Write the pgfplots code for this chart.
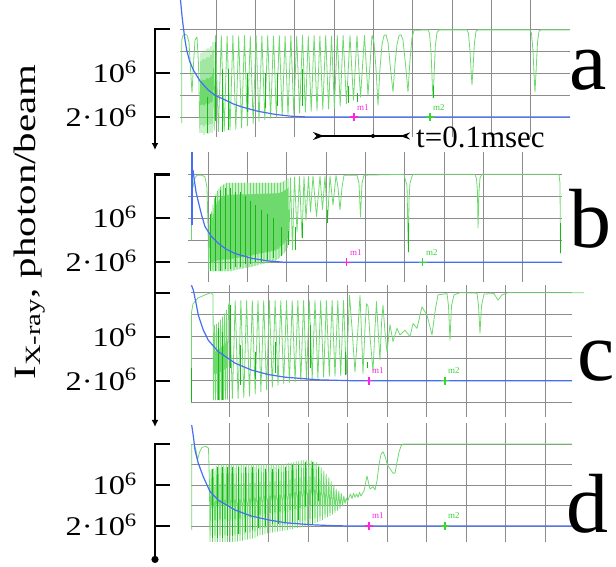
\documentclass[border=0pt]{standalone}
\usepackage{fontspec}
\setmainfont{Liberation Serif}
\newfontfamily\tickfont{Liberation Serif}[FakeStretch=1.2]
\newfontfamily\labfont{Liberation Serif}[FakeStretch=1.32]
\usepackage{pgfplots}
\pgfplotsset{compat=1.18}
\usetikzlibrary{arrows.meta}
\definecolor{trace}{RGB}{110,218,110}
\definecolor{tracedark}{RGB}{20,185,20}
\definecolor{beam}{RGB}{70,110,245}
\definecolor{gridc}{RGB}{140,140,140}
\definecolor{mone}{RGB}{250,40,220}
\definecolor{mtwo}{RGB}{60,210,60}
\tikzset{bracket/.style={line width=2.4pt, black}}
\pgfplotsset{
  panel/.style={
    scale only axis, y dir=reverse, clip=false,
    axis line style={draw=none}, tick style={draw=none},
    major tick length=0pt,
    xticklabels={,,,,,,,,,},
    grid=major, major grid style={gridc, line width=0.9pt},
    yticklabel style={font=\tickfont\fontsize{27}{27}\selectfont, anchor=base east, inner sep=0pt, yshift=-9.3pt},
  },
  gtrace/.style={trace, line width=0.8pt, line join=round},
  dtrace/.style={tracedark, line width=0.9pt, unbounded coords=jump},
  btrace/.style={beam, line width=1.2pt, line join=round},
}
\begin{document}
\begin{tikzpicture}
\path[use as bounding box] (0pt,0pt) rectangle (616pt,-567pt);

% ---------------- panel a ----------------
\begin{axis}[panel, at={(180pt,0pt)}, anchor=north west, width=390pt, height=137pt,
  xmin=180, xmax=570, ymin=-0.659, ymax=2.4545,
  xtick={216.3,255.6,294.9,334.2,373.5,412.8,452.1,491.4,530.7},
  ytick={0,0.5,1,1.5,2}, yticklabels={,,10\textsuperscript{6},,2·10\textsuperscript{6}},
  yticklabel style={xshift=-43pt}]
\addplot[gtrace] coordinates {
(181.7,2.14)(181.7,0.25)(183,0.15)(185,0.12)(187,0.14)(189,0.3)(190.5,0.9)(192,1.45)(193.5,0.8)(195,0.25)(197,0.18)(198.5,0.8)(200,2.36)
(201,0.55)(202,2.36)(203,0.5)(204,2.4)(205,0.5)(206,2.36)(207,0.45)(208,2.38)(209,0.45)(210,2.35)(211,0.4)(212,2.36)(213,0.3)(214.2,2.3)
(215.5,0.15)(218.4,2.33)(221.3,0.15)(224.2,2.32)(227.1,0.16)(230,2.3)(232.9,0.15)(235.8,2.28)(238.7,0.16)(241.6,2.25)(244.5,0.15)(247.4,2.2)(250.3,0.16)(253.2,2.15)(256.1,0.15)(259,2.1)(261.9,0.16)(264.8,2.06)(267.7,0.15)(270.6,2.03)(273.5,0.16)(276.4,2.0)(279.3,0.15)(282.2,1.97)(285.1,0.16)(288,1.95)(290.9,0.15)(293.8,1.93)(296.7,0.16)(299.6,1.91)(302.5,0.15)(305.4,1.89)(308.3,0.16)(311.2,1.87)(314.1,0.15)(317,1.85)(319.9,0.16)(322.8,1.83)(325.7,0.15)(328.6,1.82)(331.5,0.16)(334.4,1.8)(337.3,0.15)(340.2,1.75)(343.1,0.15)(346.5,1.7)(350,0.15)(353.5,1.62)(357,0.15)(360.5,1.55)(364.5,0.15)(368,1.5)(372,0.14)
(374,0.3)(376,0.9)(378,1.73)(380,0.9)(382,0.35)(384,0.15)(386,0.13)(388,0.3)(390.5,0.9)(393,1.43)(395,0.8)(397,0.35)(399,0.15)(401,0.13)(403,0.25)(405.5,0.8)(408,1.43)(410,0.7)(412,0.2)(414,0.03)
(428,0.02)(429.5,0.1)(431,0.5)(432.2,1.2)(433,1.57)(434,1.1)(435.3,0.4)(437,0.08)(439,0.02)
(467,0.02)(468.5,0.1)(470,0.5)(471.2,1.0)(472,1.27)(473,0.9)(474.5,0.3)(476,0.05)(478,0.02)
(530,0.02)(531.5,0.1)(533,0.5)(534.2,1.1)(535,1.43)(536,1.0)(537.5,0.3)(539,0.05)(541,0.02)(570,0.02)
};
\addplot[dtrace] coordinates {
(207,1.55)(207,2.36)(207,nan)(215.5,0.3)(215.5,2.1)(215.5,nan)(222,0.92)(222,2.33)(222,nan)(228,0.92)(228,2.3)(228,nan)
(247,0.99)(247,1.88)(247,nan)(265,0.99)(265,1.8)(265,nan)(277,0.99)(277,1.74)(277,nan)(302,0.92)(302,1.74)(302,nan)
(348,1.3)(348,1.68)(348,nan)(357,1.45)(357,1.65)(357,nan)(433,1.3)(433,1.57)
};
\addplot[btrace] coordinates {
(180.5,-0.66)(182,-0.3)(183.3,-0.05)(185,0.25)(186.7,0.48)(189.5,0.72)(193.3,0.93)(200,1.18)(208.3,1.39)(216,1.52)(225,1.61)(233,1.7)(241.7,1.77)(258,1.87)(275,1.94)(290,1.98)(308,2.0)(570,2.0)
};
\addplot[only marks, mark=+, mark size=4pt, mone, line width=1.2pt] coordinates {(354,2.0)};
\addplot[only marks, mark=+, mark size=4pt, mtwo, line width=1.2pt] coordinates {(430,2.0)};
\node[mone, anchor=south west, inner sep=0pt, font=\fontsize{9}{9}\selectfont] at (axis cs:357,1.85) {m1};
\node[mtwo, anchor=south west, inner sep=0pt, font=\fontsize{9}{9}\selectfont] at (axis cs:433,1.85) {m2};
\draw[bracket, -{Latex[length=7pt,width=7pt]}] (axis cs:170,0) -- (axis cs:155,0) -- (axis cs:155,2.75);
\draw[bracket] (axis cs:155,1) -- (axis cs:170,1);
\draw[bracket] (axis cs:155,2) -- (axis cs:170,2);
\end{axis}

% ---------------- panel b ----------------
\begin{axis}[panel, at={(188pt,-152pt)}, anchor=north west, width=374pt, height=130pt,
  xmin=188, xmax=562, ymin=-0.507, ymax=2.448,
  xtick={208.3,247.6,286.9,326.2,365.5,404.8,444.1,483.4,522.7},
  ytick={0,0.5,1,1.5,2}, yticklabels={,,10\textsuperscript{6},,2·10\textsuperscript{6}},
  yticklabel style={xshift=-51pt}]
\addplot[gtrace] coordinates {
(191.5,1.5)(191.5,0.05)(193,0.3)(194.5,0.1)(197,0.02)(202,0.02)(205,0.06)(207,0.3)(208,1.2)(208.8,2.2)
(210,1.05)(210.75,2.2)(211.5,0.85)(212.25,2.2)(213,0.7)(213.75,2.2)(214.5,0.55)(215.25,2.2)(216,0.45)(216.75,2.2)(217.5,0.38)(218.25,2.2)(219,0.33)(219.75,2.2)(220.5,0.29)(221.25,2.2)(222,0.26)(222.75,2.2)(223.5,0.24)(224.25,2.2)(225,0.22)(225.75,2.2)(226.5,0.2)(227.25,2.2)(228,0.2)(228.75,2.2)(229.5,0.2)(230.25,2.2)(231,0.2)(231.75,2.19)(232.5,0.2)(233.25,2.18)(234,0.2)(234.75,2.17)(235.5,0.2)(236.25,2.16)(237,0.2)(237.75,2.16)(238.5,0.2)(239.25,2.15)(240,0.2)(240.75,2.14)(241.5,0.2)(242.25,2.14)(243,0.2)(243.75,2.13)(244.5,0.2)(245.25,2.12)(246,0.2)(246.75,2.12)(247.5,0.2)(248.25,2.11)(249,0.2)(249.75,2.1)(250.5,0.2)(251.25,2.1)(252,0.2)(252.75,2.09)(253.5,0.2)(254.25,2.08)(255,0.2)(255.75,2.07)(256.5,0.2)(257.25,2.06)(258,0.2)(258.75,2.05)(259.5,0.2)(260.25,2.04)(261,0.2)(261.75,2.04)(262.5,0.2)(263.25,2.03)(264,0.2)(264.75,2.02)(265.5,0.2)(266.25,2.01)(267,0.2)(267.75,2.0)(268.5,0.2)(269.25,2.0)(270,0.2)(270.75,1.99)(271.5,0.2)(272.25,1.98)(273,0.2)(273.75,1.97)(274.5,0.2)(275.25,1.96)(276,0.2)(276.75,1.94)(277.5,0.2)(278.25,1.92)(279,0.2)(279.75,1.89)(280.5,0.19)(281.25,1.85)(282,0.18)(282.75,1.82)(283.5,0.17)(284.25,1.78)(285,0.14)(285.75,1.74)(286.5,0.13)(287.25,1.67)(288,0.1)(288.75,1.6)
(290.5,0.08)(292.5,1.72)(294.5,0.06)(297,1.3)(299.5,0.05)(302,1.45)(304,0.05)(306,1.04)(308.5,0.05)(310.5,0.85)(313,0.04)(316.5,0.96)(320,0.04)(322.5,0.8)(325,0.04)(327.5,1.08)(330,0.04)(333,0.7)(336,0.03)(338,0.3)(340,0.81)(342,0.3)(344,0.02)
(357,0.02)(359,0.2)(360.5,0.97)(362,0.2)(364,0.02)
(404,0.0)(405,0.1)(407,0.25)(408.3,1.77)(409,0.6)(410,0.2)(412,0.05)(413,0.0)
(475,0.0)(476.5,0.1)(477.5,0.4)(478,1.22)(479,0.4)(480,0.08)(482,0.0)
(559,0.0)(560,0.2)(560.5,1.8)
};
\addplot[dtrace] coordinates {
(210,0.9)(210,2.2)(210,nan)(215,0.5)(215,2.2)(215,nan)(220,0.35)(220,2.2)(220,nan)(225,0.3)(225,2.15)(225,nan)(230,0.3)(230,2.15)(230,nan)
(235,0.4)(235,2.1)(235,nan)(240,0.4)(240,2.1)(240,nan)(245,0.5)(245,2.05)(245,nan)(250,0.6)(250,2.05)(250,nan)(255,0.7)(255,2.0)(255,nan)
(261,0.8)(261,2.0)(261,nan)(267,0.9)(267,1.95)(267,nan)(273,1.0)(273,1.9)(273,nan)(281,1.2)(281,1.85)(281,nan)(288,1.3)(288,1.6)(288,nan)
(295,1.2)(295,1.72)(295,nan)(302,1.1)(302,1.45)(302,nan)(327,0.8)(327,1.1)(327,nan)(408.3,1.1)(408.3,1.77)(408.3,nan)(560.5,1.1)(560.5,1.8)
};
\addplot[btrace] coordinates {(192,-0.5)(192,1.15)};
\addplot[btrace] coordinates {
(193,-0.1)(194.3,0.13)(196,0.4)(198.3,0.62)(201.5,0.92)(205,1.19)(211,1.4)(218.3,1.57)(226,1.7)(235,1.8)(251.7,1.91)(268.3,1.97)(285,2.0)(562,2.0)
};
\addplot[only marks, mark=+, mark size=4pt, mone, line width=1.2pt] coordinates {(346.7,2.0)};
\addplot[only marks, mark=+, mark size=4pt, mtwo, line width=1.2pt] coordinates {(422.7,2.0)};
\node[mone, anchor=south west, inner sep=0pt, font=\fontsize{9}{9}\selectfont] at (axis cs:350,1.85) {m1};
\node[mtwo, anchor=south west, inner sep=0pt, font=\fontsize{9}{9}\selectfont] at (axis cs:426,1.85) {m2};
\draw[bracket] (axis cs:170,0) -- (axis cs:155,0) -- (axis cs:155,2.75);
\draw[bracket] (axis cs:155,1) -- (axis cs:170,1);
\draw[bracket] (axis cs:155,2) -- (axis cs:170,2);
\end{axis}

% ---------------- panel c ----------------
\begin{axis}[panel, at={(191pt,-285pt)}, anchor=north west, width=381pt, height=132pt,
  xmin=191, xmax=572, ymin=-0.175, ymax=2.825,
  xtick={229.4,268.85,308.3,347.75,387.2,426.65,466.1,505.55,545},
  ytick={0,0.5,1,1.5,2,2.5}, yticklabels={,,10\textsuperscript{6},,2·10\textsuperscript{6},},
  yticklabel style={xshift=-54pt}]
\addplot[gtrace] coordinates {
(191.5,2.45)(191.5,0.45)(193,0.25)(195,0.2)(198,0.12)(205,0.05)(211,0.0)(213,0.05)(213.5,2.44)
(214.5,0.74)(215.5,2.44)(216.5,0.72)(217.5,2.44)(218.5,0.68)(219.5,2.44)(220.5,0.62)(221.5,2.44)(222.5,0.55)(223.5,2.44)(224.5,0.48)(225.5,2.42)(226.5,0.4)(227.5,2.42)(228.5,0.3)
(229.5,0.2)(232.4,2.4)(235.2,0.18)(238.1,2.4)(240.9,0.18)(243.8,2.38)(246.6,0.18)(249.5,2.35)(252.3,0.18)(255.2,2.3)(258,0.18)(260.9,2.25)(263.7,0.18)(266.6,2.2)(269.4,0.18)(272.3,2.15)(275.1,0.18)(278,2.1)(280.8,0.18)(283.7,2.07)(286.5,0.18)(289.4,2.04)(292.2,0.18)(295.1,2.02)(297.9,0.18)(300.8,2.0)(303.6,0.18)(306.5,1.98)(309.3,0.18)(312.2,1.96)(315,0.18)(317.9,1.94)(320.7,0.18)(323.6,1.92)(326.4,0.18)(329.3,1.9)(332.1,0.18)(335,1.9)(337.8,0.18)(340.7,1.88)(343.5,0.18)(346.4,1.85)(349.5,0.06)
(352,0.8)(355,1.8)(358,0.8)(360,0.06)(361.5,0.9)(363,1.84)(365,0.8)(366.5,0.25)(368,0.3)(370,1.0)(373,1.78)(375,0.8)(376.5,0.2)(378,0.8)(380,1.53)(381.5,0.7)(383,0.28)(385,0.9)(387,1.34)
(390,0.73)(393,1.11)(397,0.81)(400,0.96)(405,0.85)(410,1.0)(413,0.7)(417,0.81)(422,0.32)(427,0.51)(432,0.96)(435,0.43)(438,0.05)(447,0.02)(448.5,0.3)(450,1.08)(451.5,0.3)(454,0.05)(460,0.0)(477,0.01)(478.5,0.3)(480,0.92)(481.5,0.3)(484,0.03)(494,0.02)(498,0.17)(502,0.05)(508,0.0)(584,0.0)
};
\addplot[dtrace] coordinates {
(191.7,1.72)(191.7,2.48)(191.7,nan)(218,0.81)(218,2.44)(218,nan)(222,0.9)(222,2.44)(222,nan)(230,0.28)(230,1.72)(230,nan)(240,1.19)(240,2.1)(240,nan)
(255,1.34)(255,1.95)(255,nan)(275,1.11)(275,1.83)(275,nan)(310,0.73)(310,1.72)(310,nan)(345,1.34)(345,1.87)(345,nan)(367,1.57)(367,1.72)
};
\addplot[btrace] coordinates {
(191.5,-0.17)(193.3,-0.06)(195.7,0.2)(198.3,0.51)(203.3,0.85)(208.3,1.08)(218.3,1.34)(235,1.6)(251.7,1.76)(268.3,1.86)(285,1.92)(318.3,1.98)(351.7,2.0)(572,2.0)
};
\addplot[only marks, mark=+, mark size=4pt, mone, line width=1.2pt] coordinates {(369,2.0)};
\addplot[only marks, mark=+, mark size=4pt, mtwo, line width=1.2pt] coordinates {(445,2.0)};
\node[mone, anchor=south west, inner sep=0pt, font=\fontsize{9}{9}\selectfont] at (axis cs:372,1.85) {m1};
\node[mtwo, anchor=south west, inner sep=0pt, font=\fontsize{9}{9}\selectfont] at (axis cs:448,1.85) {m2};
\draw[bracket, -{Latex[length=7pt,width=7pt]}] (axis cs:155,-0.5) -- (axis cs:155,3.05);
\draw[bracket] (axis cs:155,0) -- (axis cs:170,0);
\draw[bracket] (axis cs:155,1) -- (axis cs:170,1);
\draw[bracket] (axis cs:155,2) -- (axis cs:170,2);
\end{axis}

% ---------------- panel d ----------------
\begin{axis}[panel, at={(191pt,-423pt)}, anchor=north west, width=381pt, height=119pt,
  xmin=191, xmax=572, ymin=-0.512, ymax=2.39,
  xtick={229.4,268.85,308.3,347.75,387.2,426.65,466.1,505.55,545},
  ytick={0,0.5,1,1.5,2}, yticklabels={,,10\textsuperscript{6},,2·10\textsuperscript{6}},
  yticklabel style={xshift=-54pt}]
\addplot[gtrace] coordinates {
(191.7,2.1)(191.7,0.02)(194,0.0)(196,0.15)(197.5,0.39)(199.5,0.2)(202,0.08)(206,0.06)(208.5,0.1)(209.5,1.0)(210,2.38)
(211.2,0.63)(212.5,2.38)(213.8,0.6)(215,2.38)(216.2,0.55)(217.5,2.38)(218.8,0.52)(220,2.38)(221.2,0.5)(222.5,2.38)(223.8,0.5)(225,2.38)(226.2,0.5)(227.5,2.38)(228.8,0.5)(230,2.38)(231.2,0.5)(232.5,2.38)(233.8,0.5)(235,2.38)(236.2,0.5)(237.5,2.37)(238.8,0.5)(240,2.36)(241.2,0.5)(242.5,2.35)(243.8,0.5)(245,2.33)(246.2,0.5)(247.5,2.32)(248.8,0.5)(250,2.31)(251.2,0.5)(252.5,2.3)(253.8,0.5)(255,2.28)(256.2,0.5)(257.5,2.25)(258.8,0.5)(260,2.22)(261.2,0.5)(262.5,2.21)(263.8,0.5)(265,2.19)(266.2,0.5)(267.5,2.17)(268.8,0.5)(270,2.16)(271.2,0.5)(272.5,2.15)(273.8,0.5)(275,2.14)(276.2,0.5)(277.5,2.13)(278.8,0.5)(280,2.12)(281.2,0.5)(282.5,2.11)(283.8,0.5)(285,2.1)(286.2,0.48)(287.5,2.09)(288.8,0.47)(290,2.08)(291.2,0.46)(292.5,2.07)(293.8,0.45)(295,2.05)(296.2,0.43)(297.5,2.04)(298.8,0.42)(300,2.03)(301.2,0.4)(302.5,2.02)(303.8,0.4)(305,2.0)(306.2,0.4)(307.5,1.98)(308.8,0.4)(310,1.95)(311.2,0.41)(312.5,1.94)(313.8,0.43)(315,1.92)(316.2,0.45)(317.5,1.9)(318.8,0.5)(320,1.88)(321.2,0.58)(322.5,1.85)(323.8,0.66)(325,1.81)(326.2,0.74)(327.5,1.78)(328.8,0.82)(330,1.75)(331.2,0.92)(332.5,1.71)(333.8,1.0)(335,1.67)(336.2,1.1)(337.5,1.62)(338.8,1.15)(340,1.57)(341.2,1.2)(342.5,1.51)(343.8,1.27)(345,1.45)(346.2,1.32)(347.5,1.41)
(349,1.3)(350.5,1.22)(352,1.33)(353.5,1.2)(355,1.3)(356.5,1.22)(358,1.3)(359.5,1.18)(361,1.27)(362.5,1.2)(364,1.15)(367,0.78)(370,1.1)(373,1.04)(375,1.12)(377,0.9)(379,0.5)(381,0.25)(383,0.19)(385,0.3)(387.5,0.51)(390,0.6)(393,0.71)(395,0.71)(397,0.45)(399,0.2)(401,0.05)(403,0.0)(572,0.0)
};
\addplot[dtrace] coordinates {
(212,0.6)(212,2.3)(212,nan)(217,0.55)(217,2.3)(217,nan)(222,0.55)(222,2.3)(222,nan)(227,0.55)(227,2.25)(227,nan)(232,0.55)(232,2.25)(232,nan)
(238,0.55)(238,2.2)(238,nan)(245,0.55)(245,2.15)(245,nan)(252,0.55)(252,2.1)(252,nan)(258,0.6)(258,2.05)(258,nan)(265,0.6)(265,2.0)(265,nan)
(272,0.6)(272,1.95)(272,nan)(278,0.6)(278,1.95)(278,nan)(285,0.55)(285,1.9)(285,nan)(292,0.5)(292,1.9)(292,nan)(298,0.5)(298,1.85)(298,nan)
(305,0.45)(305,1.5)(305,nan)(312,0.45)(312,1.95)(312,nan)(318,0.55)(318,1.4)
};
\addplot[btrace] coordinates {
(191.7,-0.46)(193.3,-0.2)(195,0.15)(198.3,0.47)(203.3,0.8)(210,1.16)(218.3,1.37)(235,1.61)(251.7,1.76)(268.3,1.85)(285,1.92)(311.7,1.97)(331.7,1.99)(350,2.0)(572,2.0)
};
\addplot[only marks, mark=+, mark size=4pt, mone, line width=1.2pt] coordinates {(369,2.0)};
\addplot[only marks, mark=+, mark size=4pt, mtwo, line width=1.2pt] coordinates {(445,2.0)};
\node[mone, anchor=south west, inner sep=0pt, font=\fontsize{9}{9}\selectfont] at (axis cs:372,1.82) {m1};
\node[mtwo, anchor=south west, inner sep=0pt, font=\fontsize{9}{9}\selectfont] at (axis cs:448,1.82) {m2};
\draw[bracket, -{Circle[length=7pt]}] (axis cs:170,0) -- (axis cs:155,0) -- (axis cs:155,2.9);
\draw[bracket] (axis cs:155,1) -- (axis cs:170,1);
\draw[bracket] (axis cs:155,2) -- (axis cs:170,2);
\end{axis}

% ---------------- annotations ----------------
\node[rotate=90, anchor=base, inner sep=0pt, font=\labfont\fontsize{31}{31}\selectfont] at (35pt,-222pt) {I\textsubscript{X-ray}, photon/beam};
\draw[line width=1.8pt, {Stealth[length=11pt,width=8pt,reversed]}-{Stealth[length=10pt,width=7pt,reversed]}] (313pt,-136pt) -- (410pt,-136pt);
\fill (373pt,-136pt) circle (2pt);
\node[anchor=base west, inner sep=0pt, font=\fontsize{31}{31}\selectfont] at (416pt,-148pt) {t=0.1msec};
\node[anchor=base west, inner sep=0pt, font=\fontsize{84}{84}\selectfont] at (569pt,-90pt) {a};
\node[anchor=base west, inner sep=0pt, font=\fontsize{84}{84}\selectfont] at (569pt,-247pt) {b};
\node[anchor=base west, inner sep=0pt, font=\fontsize{84}{84}\selectfont] at (577pt,-380pt) {c};
\node[anchor=base west, inner sep=0pt, font=\fontsize{84}{84}\selectfont] at (566pt,-532pt) {d};
\end{tikzpicture}
\end{document}
